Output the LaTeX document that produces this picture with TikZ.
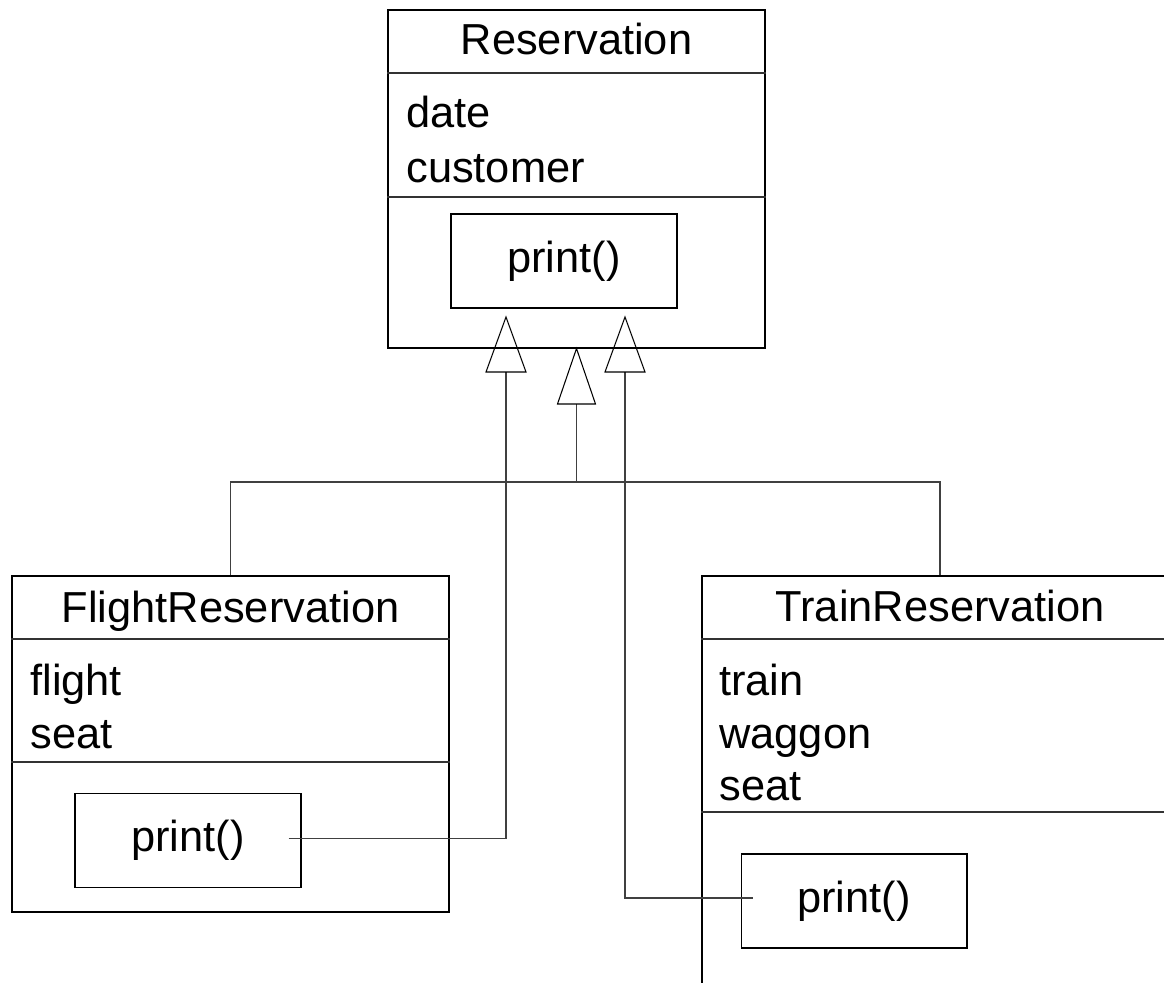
\documentclass[tikz,border=0pt]{standalone}
\usepackage{fontspec}
\setmainfont{Liberation Sans}
\usepackage{tikz}
\usetikzlibrary{positioning, fit, calc}
\newcommand{\umlfont}{\fontsize{24.7}{30}\selectfont}
\tikzset{
  cls/.style={draw=black, line width=0.6pt, inner sep=0pt},
  op/.style={draw=black, line width=0.6pt, inner sep=0pt, minimum width=4.52cm, minimum height=1.88cm, font=\umlfont},
  ttl/.style={inner sep=0pt, anchor=base, font=\umlfont},
  attr/.style={inner sep=0pt, anchor=base west, font=\umlfont},
  sep/.style={line width=0.6pt, draw=black!80},
  conn/.style={line width=0.6pt, draw=black!75},
  gen/.style={line width=0.6pt, draw=black},
}

\begin{document}
\begin{tikzpicture}[x=0.02cm, y=-0.02cm]
  \useasboundingbox (0,0) rectangle (1164,983);
  \clip (0,0) rectangle (1164,983);

  % base class
  \node[cls, fit={(388,10) (765,348)}] (res) {};
  \node[ttl] (rttl) at (576.5,55) {Reservation};
  \node[attr] (rdate) at (406,128) {date};
  \node[attr] (rcust) at (406,183) {customer};
  \node[op] (rpr) at (564,261) {print()};
  \draw[sep] (res.west |- 0,73) -- (res.east |- 0,73);
  \draw[sep] (res.west |- 0,197) -- (res.east |- 0,197);

  % subclasses
  \node[cls, fit={(12,576) (449,912)}] (fl) {};
  \node[ttl] (fttl) at (230.5,622) {FlightReservation};
  \node[attr] (fflt) at (30,695) {flight};
  \node[attr] (fseat) at (30,748) {seat};
  \node[op] (fpr) at (188,840.5) {print()};
  \draw[sep] (fl.west |- 0,639) -- (fl.east |- 0,639);
  \draw[sep] (fl.west |- 0,762) -- (fl.east |- 0,762);

  \node[cls, fit={(702,576) (1178,1010)}] (tr) {};
  \node[ttl] (tttl) at (940,621) {TrainReservation};
  \node[attr] (ttrn) at (719,695) {train};
  \node[attr] (twag) at (719,748) {waggon};
  \node[attr] (tseat) at (719,800) {seat};
  \node[op] (tpr) at (854,901) {print()};
  \draw[sep] (tr.west |- 0,639) -- (tr.east |- 0,639);
  \draw[sep] (tr.west |- 0,812) -- (tr.east |- 0,812);

  % generalization
  \coordinate (gb) at (576.5,404);
  \coordinate (bus) at (576.5,482);
  \coordinate (t1) at (506,372);
  \coordinate (t3) at (625,372);
  \coordinate (fs) at ($(fpr.east)+(-13,-2)$);
  \coordinate (ts) at ($(tpr.west)+(12,-3)$);

  \draw[conn] (fl.north) |- (bus) -| (tr.north);
  \draw[conn] (bus) -- (gb);
  \draw[conn] (fs) -| (t1);
  \draw[conn] (ts) -| (t3);

  \draw[gen] ($(gb)+(-19,0)$) -- (res.south) -- ($(gb)+(19,0)$) -- cycle;
  \draw[gen] ($(t1)+(-20,0)$) -- ($(t1)+(0,-55)$) -- ($(t1)+(20,0)$) -- cycle;
  \draw[gen] ($(t3)+(-20,0)$) -- ($(t3)+(0,-55)$) -- ($(t3)+(20,0)$) -- cycle;
\end{tikzpicture}
\end{document}
